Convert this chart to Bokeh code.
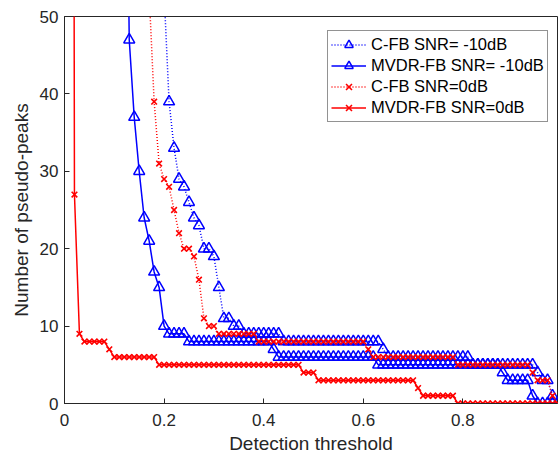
from bokeh.plotting import figure
from bokeh.models import (FixedTicker, PrintfTickFormatter, Legend, LegendItem, Range1d)
from bokeh.embed import file_html
from bokeh.resources import INLINE

# Detection thresholds (0.01 ... 0.99)
thresholds = [round(i / 100, 2) for i in range(1, 100)]

# C-FB SNR=-10dB, starting at threshold 0.20
cfb_m10_start = 0.20
cfb_m10 = [53, 39, 33, 29, 28, 26, 24, 23, 20, 20, 19, 15, 11, 11, 10, 10,
           9, 9, 9, 9, 9, 9, 9, 9,
           8, 8, 8, 8, 8, 8, 8, 8, 8, 8, 8, 8, 8, 8, 8, 8, 8, 8, 8, 8,
           7,
           6, 6, 6, 6, 6, 6, 6, 6, 6, 6, 6, 6, 6, 6, 6, 6, 6,
           5, 5, 5, 5, 5, 5, 5, 5, 5, 5, 5, 5, 5,
           4, 3, 3, 1, 0]

# MVDR-FB SNR=-10dB, starting at threshold 0.12
mvdr_m10_start = 0.12
mvdr_m10 = [100, 47, 37, 30, 24, 21, 17, 15, 10,
            9, 9, 9, 9,
            8, 8, 8, 8, 8, 8, 8, 8, 8, 8, 8, 8, 8, 8, 8, 8, 8,
            7,
            6, 6, 6, 6, 6, 6, 6, 6, 6, 6, 6, 6, 6, 6, 6, 6, 6, 6, 6, 6,
            5, 5, 5, 5, 5, 5, 5, 5, 5, 5, 5, 5, 5, 5, 5, 5, 5, 5, 5, 5, 5, 5, 5, 5, 5,
            4, 3, 3, 3, 3, 3, 1, 0, 0, 0, 0, 0]

# C-FB SNR=0dB, starting at threshold 0.17
cfb_0_start = 0.17
cfb_0 = [53, 39, 31, 29, 28, 25, 22, 20, 20, 19, 16, 11, 10, 10,
         9, 9, 9, 9, 9, 9, 9, 9,
         8, 8, 8, 8, 8, 8, 8, 8, 8, 8, 8, 8, 8, 8, 8, 8, 8, 8, 8, 8, 8, 8,
         7,
         6, 6, 6, 6, 6, 6, 6, 6, 6, 6, 6, 6, 6, 6, 6, 6, 6,
         5, 5, 5, 5, 5, 5, 5, 5, 5, 5, 5, 5, 5, 5, 5,
         4, 3, 3, 3, 1, 0]

# MVDR-FB SNR=0dB, starting at threshold 0.01
mvdr_0_start = 0.01
mvdr_0 = [400, 27, 9, 8, 8, 8, 8, 8, 7,
          6, 6, 6, 6, 6, 6, 6, 6, 6,
          5, 5, 5, 5, 5, 5, 5, 5, 5, 5, 5, 5, 5, 5, 5, 5, 5, 5, 5, 5, 5, 5, 5, 5, 5, 5, 5, 5, 5,
          4, 4, 4,
          3, 3, 3, 3, 3, 3, 3, 3, 3, 3, 3, 3, 3, 3, 3, 3, 3, 3, 3, 3,
          2,
          1, 1, 1, 1, 1, 1, 1,
          0, 0, 0, 0, 0, 0, 0, 0, 0, 0, 0, 0, 0, 0, 0, 0, 0, 0, 0, 0, 0]

labels = ["C-FB SNR= -10dB", "MVDR-FB SNR= -10dB", "C-FB SNR=0dB", "MVDR-FB SNR=0dB"]
x_ticks = [0, 0.2, 0.4, 0.6, 0.8]
y_ticks = [0, 10, 20, 30, 40, 50]
x_title = "Detection threshold"
y_title = "Number of pseudo-peaks"


def xs_from(start, ys):
    i0 = thresholds.index(start)
    return thresholds[i0:i0 + len(ys)]


BLUE = "#0000FF"
RED = "#FF0000"
AX = "#262626"
FONT = "Liberation Sans"

p = figure(width=558, height=458, x_range=Range1d(0, 0.99), y_range=Range1d(0, 50),
           output_backend="svg", toolbar_location=None,
           min_border_left=64, min_border_right=1, min_border_top=16, min_border_bottom=55)
p.xgrid.visible = False
p.ygrid.visible = False
p.outline_line_color = AX
p.outline_line_width = 1
p.background_fill_color = "white"
p.border_fill_color = "white"

p.xaxis.ticker = FixedTicker(ticks=x_ticks)
p.yaxis.ticker = FixedTicker(ticks=y_ticks)
p.xaxis.formatter = PrintfTickFormatter(format="%g")
p.yaxis.formatter = PrintfTickFormatter(format="%g")
for ax in (p.xaxis, p.yaxis):
    ax.major_tick_in = 5
    ax.major_tick_out = 0
    ax.minor_tick_line_color = None
    ax.axis_line_color = AX
    ax.major_tick_line_color = AX
    ax.major_label_text_font = FONT
    ax.major_label_text_font_size = "17px"
    ax.major_label_text_color = AX
    ax.axis_label_text_font = FONT
    ax.axis_label_text_font_size = "19px"
    ax.axis_label_text_font_style = "normal"
    ax.axis_label_text_color = AX
p.xaxis.axis_label = x_title
p.yaxis.axis_label = y_title
p.xaxis.major_label_standoff = 10
p.xaxis.axis_label_standoff = 4
p.yaxis.major_label_standoff = 6
p.yaxis.axis_label_standoff = 5

items = []
series = [
    (cfb_m10_start, cfb_m10, BLUE, "1 2", "triangle"),
    (mvdr_m10_start, mvdr_m10, BLUE, "solid", "triangle"),
    (cfb_0_start, cfb_0, RED, "1 2", "x"),
    (mvdr_0_start, mvdr_0, RED, "solid", "x"),
]
for (start, ys, col, dash, mk), lab in zip(series, labels):
    xs = xs_from(start, ys)
    lr = p.line(xs, ys, line_color=col, line_width=1.5, line_dash=dash)
    if mk == "triangle":
        mr = p.scatter(xs, ys, marker="triangle", size=11, line_color=col,
                       fill_color=None, line_width=1.5)
    else:
        mr = p.scatter(xs, ys, marker="x", size=8, line_color=col, line_width=1.6)
    items.append(LegendItem(label=lab, renderers=[lr, mr]))

legend = Legend(items=items, location=(263, 281))
legend.label_text_font = FONT
legend.label_text_font_size = "16.5px"
legend.label_text_color = "black"
legend.glyph_width = 35
legend.glyph_height = 21
legend.label_height = 21
legend.label_standoff = 5
legend.spacing = 0
legend.padding = 3
legend.margin = 0
legend.border_line_color = AX
legend.border_line_width = 1
legend.background_fill_color = "white"
legend.background_fill_alpha = 1
p.add_layout(legend, "center")

open("out.html", "w").write(file_html(p, INLINE))
